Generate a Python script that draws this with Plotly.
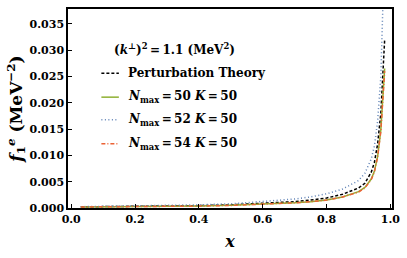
import plotly.graph_objects as go

x_pt = [0.03, 0.1, 0.2, 0.3, 0.4, 0.5, 0.6, 0.7, 0.75, 0.8, 0.85, 0.9, 0.92, 0.94, 0.95, 0.96, 0.97, 0.975, 0.982]
y_pt = [0.00022, 0.00025, 0.0003, 0.00036, 0.00045, 0.0006, 0.00085, 0.0012, 0.0015, 0.0019, 0.0026, 0.0038, 0.0047, 0.0068, 0.0087, 0.0122, 0.018, 0.023, 0.032]

x_50 = [0.03, 0.1, 0.2, 0.3, 0.4, 0.5, 0.6, 0.7, 0.75, 0.8, 0.85, 0.9, 0.92, 0.94, 0.95, 0.96, 0.97, 0.975, 0.982]
y_50 = [0.0002, 0.00022, 0.00026, 0.0003, 0.00037, 0.0005, 0.0007, 0.001, 0.0012, 0.0015, 0.0021, 0.0031, 0.0039, 0.0055, 0.007, 0.0098, 0.0148, 0.019, 0.0265]

x_52 = [0.03, 0.1, 0.2, 0.3, 0.4, 0.5, 0.6, 0.7, 0.75, 0.8, 0.85, 0.9, 0.92, 0.94, 0.95, 0.96, 0.97, 0.976, 0.98]
y_52 = [0.00025, 0.0003, 0.00038, 0.00048, 0.0006, 0.0008, 0.0012, 0.0017, 0.0021, 0.0027, 0.0036, 0.0052, 0.0066, 0.0093, 0.0118, 0.0165, 0.025, 0.0378, 0.046]

x_54 = [0.03, 0.1, 0.2, 0.3, 0.4, 0.5, 0.6, 0.7, 0.75, 0.8, 0.85, 0.9, 0.92, 0.94, 0.95, 0.96, 0.97, 0.975, 0.982]
y_54 = [0.0002, 0.00022, 0.00026, 0.0003, 0.00036, 0.00049, 0.00069, 0.00098, 0.0012, 0.0015, 0.0021, 0.003, 0.0038, 0.0054, 0.0069, 0.0097, 0.0146, 0.0187, 0.026]

series_names = ["Perturbation Theory",
                "<i>N</i><sub>max</sub>\u2009=\u200950 <i>K</i>\u2009=\u200950",
                "<i>N</i><sub>max</sub>\u2009=\u200952 <i>K</i>\u2009=\u200950",
                "<i>N</i><sub>max</sub>\u2009=\u200954 <i>K</i>\u2009=\u200950"]
legend_title = "(<i>k</i><sup>⊥</sup>)<sup>2</sup>\u2009=\u20091.1 (MeV<sup>2</sup>)"

x_ticks = [0.0, 0.2, 0.4, 0.6, 0.8, 1.0]
y_ticks = [0.0, 0.005, 0.01, 0.015, 0.02, 0.025, 0.03, 0.035]

FONT = "DejaVu Serif"
colors = ["black", "#8FB032", "#5E81B5", "#EB6235"]
dashes = ["3px,2px", "solid", "1px,2.5px", "4px,2px,1px,2px"]

fig = go.Figure()
for xs, ys, name, c, d in zip([x_pt, x_50, x_52, x_54], [y_pt, y_50, y_52, y_54], series_names, colors, dashes):
    fig.add_trace(go.Scatter(x=xs, y=ys, mode="lines", name=name,
                             line=dict(color=c, dash=d, width=1.5), showlegend=False))

axis_common = dict(showline=True, linecolor="black", linewidth=1.5, mirror=True,
                   ticks="inside", ticklen=4, tickcolor="black", showgrid=False, zeroline=False,
                   ticklabeloverflow="allow",
                   tickfont=dict(family=FONT, size=11, color="black", weight="bold"))

fig.update_xaxes(range=[-0.01, 1.005], tickvals=x_ticks, ticktext=[f"<b>{v:.1f}</b>" for v in x_ticks],
                 title=dict(text="<b><i>x</i></b>", font=dict(family=FONT, size=16, color="black"), standoff=11),
                 **axis_common)
fig.update_yaxes(range=[0, 0.0378], tickvals=y_ticks, ticktext=[f"<b>{v:.3f}</b>" for v in y_ticks],
                 title=dict(text="<b><i>f</i><sub>1</sub><sup><i>e</i></sup> (MeV<sup>−2</sup>)</b>",
                            font=dict(family=FONT, size=17, color="black"), standoff=3),
                 **axis_common)

# legend title
fig.add_annotation(x=0.328, y=0.80, xref="paper", yref="paper", xanchor="center", yanchor="middle",
                   showarrow=False, text=f"<b>{legend_title}</b>",
                   font=dict(family=FONT, size=12, color="black"))

# manual legend (line samples + labels)
row_y = [0.677, 0.557, 0.443, 0.323]
for yy, name, c, d in zip(row_y, series_names, colors, dashes):
    fig.add_shape(type="line", xref="paper", yref="paper", x0=0.103, x1=0.157, y0=yy, y1=yy,
                  line=dict(color=c, dash=d, width=1.5))
    fig.add_annotation(x=0.179, y=yy, xref="paper", yref="paper", xanchor="left", yanchor="middle",
                       showarrow=False, text=f"<b>{name}</b>",
                       font=dict(family=FONT, size=12, color="black"))

fig.update_layout(
    width=407, height=258,
    margin=dict(l=68, r=10, t=7, b=50),
    paper_bgcolor="white", plot_bgcolor="white",
    showlegend=False,
)

fig.write_html("out.html", config={"displayModeBar": False},
               post_script="document.body.style.margin='0';")
